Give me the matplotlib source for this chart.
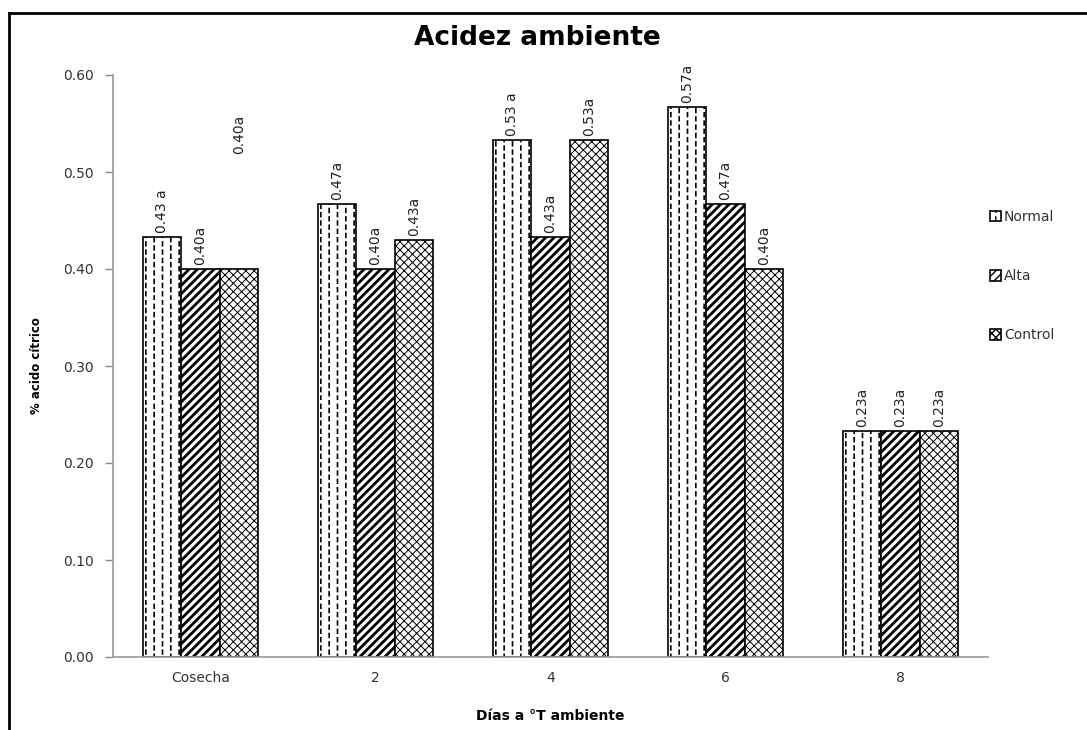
import numpy as np
import matplotlib
matplotlib.use('Agg')
import matplotlib.pyplot as plt
import matplotlib.hatch as mhatch
from matplotlib.path import Path
from matplotlib.lines import Line2D

categories = ['Cosecha', '2', '4', '6', '8']
series = ['Normal', 'Alta', 'Control']
normal = [0.433, 0.467, 0.533, 0.567, 0.233]
alta = [0.400, 0.400, 0.433, 0.467, 0.233]
control = [0.400, 0.430, 0.533, 0.400, 0.233]
labels_normal = ['0.43 a', '0.47a', '0.53 a', '0.57a', '0.23a']
labels_alta = ['0.40a', '0.40a', '0.43a', '0.47a', '0.23a']
labels_control = ['0.40a', '0.43a', '0.53a', '0.40a', '0.23a']

values = [normal, alta, control]
labels = [labels_normal, labels_alta, labels_control]
hatches = ['||', '////', 'xxxx']
hatch_lw = [1.2, 2.0, 0.7]
# extra label lift (points) for the one Excel placed high
extra_lift = {(2, 0): 80}


# Excel-like "dashed vertical" pattern: staggered short vertical dashes
class DashedVertical(mhatch.HatchPatternBase):
    def __init__(self, hatch, density):
        self.n = int(hatch.count('|') * density)
        self.num_vertices = self.n * self.n * 2

    def set_vertices_and_codes(self, vertices, codes):
        n = self.n
        k = 0
        for c in range(n):
            xc = (c + 0.5) / n
            off = 0.5 / n if c % 2 else 0.0
            for r in range(n):
                y0 = r / n + off + 0.02 / n
                vertices[k] = (xc, y0)
                vertices[k + 1] = (xc, y0 + 0.45 / n)
                codes[k] = Path.MOVETO
                codes[k + 1] = Path.LINETO
                k += 2


mhatch._hatch_types = [DashedVertical if t is mhatch.VerticalHatch else t
                       for t in mhatch._hatch_types]

plt.rcParams['font.family'] = 'DejaVu Sans'
fig = plt.figure(figsize=(10.87, 7.30), dpi=100)
ax = fig.add_axes([113 / 1087, 1 - 657 / 730, 875 / 1087, 582 / 730])

x = np.arange(len(categories))
w = 0.22
for i, (vals, labs) in enumerate(zip(values, labels)):
    with plt.rc_context({'hatch.linewidth': hatch_lw[i], 'hatch.color': 'black'}):
        bars = ax.bar(x + (i - 1) * w, vals, w, facecolor='white', edgecolor='black',
                      linewidth=1.2, hatch=hatches[i], label=series[i])
        for b in bars:
            if hasattr(b, 'set_hatch_linewidth'):
                b.set_hatch_linewidth(hatch_lw[i])
    for j, b in enumerate(bars):
        lift = 3 + extra_lift.get((i, j), 0)
        ax.annotate(labs[j], (b.get_x() + b.get_width() / 2, b.get_height()),
                    xytext=(0, lift), textcoords='offset points', rotation=90,
                    ha='center', va='bottom', fontsize=10, color='#222222')

ax.set_xlim(-0.5, len(categories) - 0.5)
ax.set_ylim(0, 0.6)
ax.set_yticks(np.arange(0, 0.61, 0.1))
ax.set_yticklabels(['%.2f' % v for v in np.arange(0, 0.61, 0.1)])
ax.set_xticks(x)
ax.set_xticklabels(categories)
ax.tick_params(axis='x', length=0, pad=10, labelsize=10, labelcolor='#333333')
ax.tick_params(axis='y', length=6, width=1, color='#888888', pad=8,
               labelsize=10, labelcolor='#333333')
for s in ['top', 'right']:
    ax.spines[s].set_visible(False)
for s in ['left', 'bottom']:
    ax.spines[s].set_color('#999999')
    ax.spines[s].set_linewidth(1.2)

ax.set_ylabel('% acido cítrico', fontsize=8.5, fontweight='bold')
ax.yaxis.set_label_coords(-0.08, 0.5)
ax.set_xlabel('Días a °T ambiente', fontsize=10, fontweight='bold', labelpad=17)
fig.text(537 / 1087, 1 - 38 / 730, 'Acidez ambiente', fontsize=19, fontweight='bold',
         ha='center', va='center')

leg = fig.legend(loc='upper left', bbox_to_anchor=(983 / 1087, 1 - 203 / 730),
                 frameon=False, fontsize=10, handlelength=0.8, handleheight=0.8,
                 handletextpad=0.2, labelspacing=3.25, borderpad=0)
for t in leg.get_texts():
    t.set_color('#333333')

# outer chart border
bx, by = 9 / 1087, 1 - 13 / 730
fig.add_artist(Line2D([bx, bx], [0, by], transform=fig.transFigure, color='black', lw=2))
fig.add_artist(Line2D([bx, 1], [by, by], transform=fig.transFigure, color='black', lw=2))

fig.savefig('out.png', dpi=100)
